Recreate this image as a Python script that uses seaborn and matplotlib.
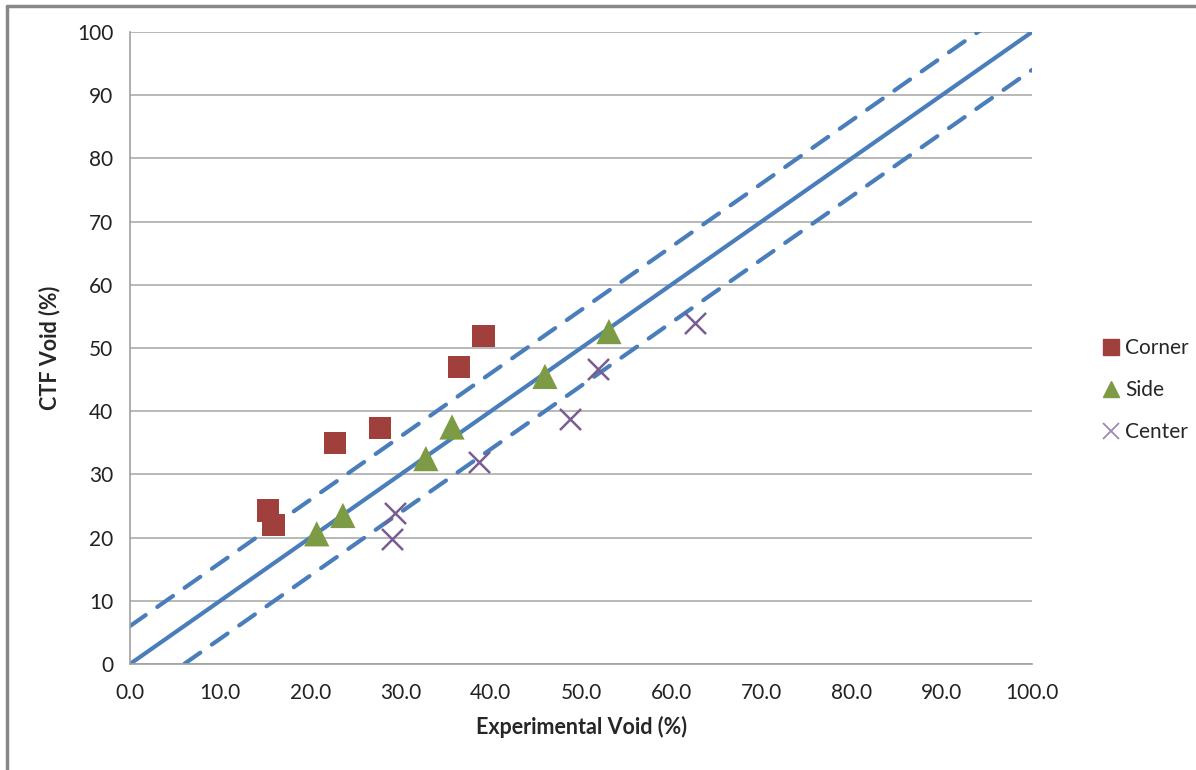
import matplotlib
matplotlib.use("Agg")
import matplotlib.pyplot as plt
import seaborn as sns
import pandas as pd
import numpy as np
from matplotlib.lines import Line2D

corner_x = [15.3, 15.9, 22.7, 27.7, 36.5, 39.2]
corner_y = [24.3, 22.0, 35.0, 37.3, 47.0, 51.9]
side_x = [20.7, 23.6, 32.8, 35.7, 46.0, 53.1]
side_y = [20.6, 23.5, 32.5, 37.5, 45.5, 52.6]
center_x = [29.4, 29.0, 38.7, 48.8, 51.9, 62.6]
center_y = [23.9, 19.8, 32.0, 38.8, 46.6, 54.0]
line_x = [0, 100]
offsets = [0, 6, -6]
x_ticks = [0, 10, 20, 30, 40, 50, 60, 70, 80, 90, 100]
y_ticks = [0, 10, 20, 30, 40, 50, 60, 70, 80, 90, 100]

sns.set_style("white")
plt.rcParams['font.family'] = ['Lato', 'DejaVu Sans']

fig = plt.figure(figsize=(11.96, 7.70), dpi=100)
ax = fig.add_axes([130/1196, 1 - 664/770, (1032-130)/1196, (664-32)/770])

line_color = "#4A7EBB"
for off in offsets:
    ls = "-" if off == 0 else (0, (4.6, 3.4))
    ax.plot(line_x, [v + off for v in line_x], color=line_color, lw=3.0,
            linestyle=ls, solid_capstyle="round", dash_capstyle="round",
            zorder=2)

df = pd.concat([
    pd.DataFrame({"x": corner_x, "y": corner_y, "g": "Corner"}),
    pd.DataFrame({"x": side_x, "y": side_y, "g": "Side"}),
    pd.DataFrame({"x": center_x, "y": center_y, "g": "Center"}),
])
palette = {"Corner": "#A0403C", "Side": "#7D9A45", "Center": "#7A5C92"}
sub = df[df.g == "Corner"]
sns.scatterplot(data=sub, x="x", y="y", marker="s", s=260, color=palette["Corner"],
                edgecolor="none", ax=ax, zorder=3, legend=False)
sub = df[df.g == "Side"]
sns.scatterplot(data=sub, x="x", y="y", marker="^", s=330, color=palette["Side"],
                edgecolor="none", ax=ax, zorder=3, legend=False)
sub = df[df.g == "Center"]
sns.scatterplot(data=sub, x="x", y="y", marker="x", s=230, color=palette["Center"],
                linewidth=1.8, ax=ax, zorder=3, legend=False)

ax.set_xlim(0, 100)
ax.set_ylim(0, 100)
ax.set_xticks(x_ticks)
ax.set_xticklabels([f"{v:.1f}" for v in x_ticks])
ax.set_yticks(y_ticks)
ax.set_yticklabels([str(v) for v in y_ticks])
ax.yaxis.grid(True, color="#ABABAB", lw=1.2)
ax.xaxis.grid(False)
for s in ["top", "right"]:
    ax.spines[s].set_visible(False)
for s in ["left", "bottom"]:
    ax.spines[s].set_color("#A0A0A0")
    ax.spines[s].set_linewidth(1.2)
ax.tick_params(axis="both", which="major", direction="out", length=7, width=1.2,
               color="#A0A0A0", labelsize=15, labelcolor="#222222")
ax.tick_params(axis="x", pad=7)
ax.tick_params(axis="y", pad=5)
ax.set_xlabel("Experimental Void (%)", fontsize=15.5, fontweight="bold", labelpad=9)
ax.set_ylabel("CTF Void (%)", fontsize=15.5, fontweight="bold", labelpad=12)

handles = [
    Line2D([], [], marker="s", linestyle="none", color=palette["Corner"], markersize=11),
    Line2D([], [], marker="^", linestyle="none", color=palette["Side"], markersize=12),
    Line2D([], [], marker="x", linestyle="none", color="#9A88B8", markersize=11, markeredgewidth=1.3),
]
fig.legend(handles, ["Corner", "Side", "Center"], loc="center left",
           bbox_to_anchor=(1080/1196, 1 - 390/770), frameon=False,
           fontsize=15, handletextpad=0.05, labelspacing=1.05, handlelength=1.2)

# outer frame (top and left visible)
fig.add_artist(Line2D([7/1196, 7/1196], [0, 1 - 6/770], transform=fig.transFigure,
                      color="#888888", lw=2.5))
fig.add_artist(Line2D([7/1196, 1], [1 - 6/770, 1 - 6/770], transform=fig.transFigure,
                      color="#888888", lw=2.5))

fig.savefig("out.png", dpi=100)
